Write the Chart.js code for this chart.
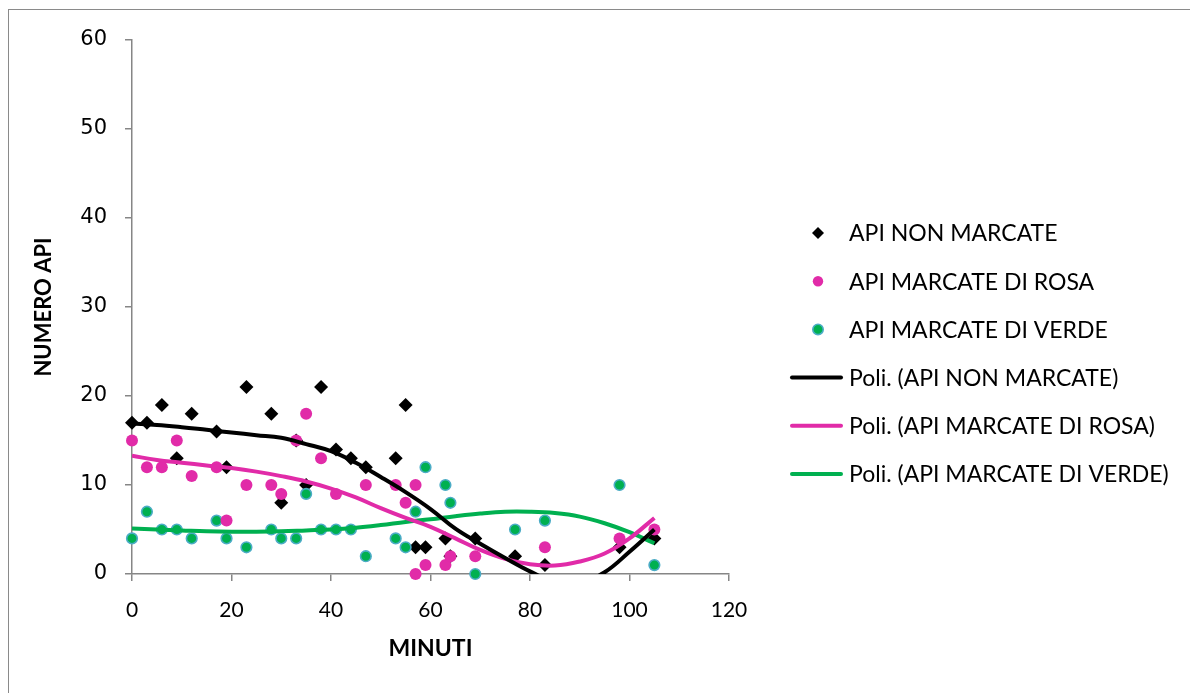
<!DOCTYPE html>
<html lang="it">
<head>
<meta charset="UTF-8">
<title>Numero api</title>
<script src="https://cdn.jsdelivr.net/npm/chart.js"></script>
<style>
  body { margin: 0; background: #fff; }
  .wrap { position: relative; width: 1190px; height: 693px; overflow: hidden; }
  .frame { position: absolute; left: 8px; top: 9px; width: 1300px; height: 800px; border: 1.5px solid #8a8a8a; }
  canvas { position: absolute; left: 0; top: 0; }
</style>
</head>
<body>
<div class="wrap">
  <div class="frame"></div>
  <canvas id="chart" width="1190" height="693"></canvas>
</div>
<script>
// punti osservati
const minutiNon = [0, 3, 6, 9, 12, 17, 19, 23, 28, 30, 33, 35, 38, 41, 44, 47, 53, 55, 57, 59, 63, 64, 69, 77, 83, 98, 105]
const apiNonMarcate = [17, 17, 19, 13, 18, 16, 12, 21, 18, 8, 15, 10, 21, 14, 13, 12, 13, 19, 3, 3, 4, 2, 4, 2, 1, 3, 4]

const minutiRosa = [0, 3, 6, 9, 12, 17, 19, 23, 28, 30, 33, 35, 38, 41, 47, 53, 55, 57, 57, 59, 63, 64, 69, 83, 98, 105]
const apiRosa = [15, 12, 12, 15, 11, 12, 6, 10, 10, 9, 15, 18, 13, 9, 10, 10, 8, 10, 0, 1, 1, 2, 2, 3, 4, 5]

const minutiVerde = [0, 3, 6, 9, 12, 17, 19, 23, 28, 30, 33, 35, 38, 41, 44, 47, 53, 55, 57, 59, 63, 64, 69, 77, 83, 98, 105]
const apiVerde = [4, 7, 5, 5, 4, 6, 4, 3, 5, 4, 4, 9, 5, 5, 5, 2, 4, 3, 7, 12, 10, 8, 0, 5, 6, 10, 1]

// linee di tendenza polinomiali
const minutiTrend = [0, 5, 10, 15, 20, 25, 30, 35, 40, 45, 50, 55, 60, 65, 70, 75, 80, 85, 90, 95, 100, 105]
const trendNon = [16.9, 16.75, 16.5, 16.2, 15.9, 15.6, 15.3, 14.6, 13.8, 12.5, 10.9, 9.2, 7.3, 5.1, 3.4, 1.8, 0.3, -0.9, -1.0, 0.2, 2.5, 5.0]
const trendRosa = [13.3, 12.8, 12.5, 12.2, 11.9, 11.5, 11.0, 10.4, 9.6, 8.6, 7.4, 6.3, 5.3, 4.0, 2.7, 1.7, 1.1, 0.95, 1.4, 2.3, 4.0, 6.3]
const trendVerde = [5.1, 5.0, 4.9, 4.8, 4.75, 4.75, 4.8, 4.9, 5.0, 5.2, 5.5, 5.85, 6.15, 6.5, 6.8, 7.0, 7.0, 6.85, 6.45, 5.7, 4.7, 3.45]

const xTicks = [0, 20, 40, 60, 80, 100, 120]
const yTicks = [0, 10, 20, 30, 40, 50, 60]

const NERO = '#000000'
const ROSA = '#E12BA8'
const VERDE = '#00B050'
const AZZURRO = '#4BACC6'
const GRIGIO = '#868686'

const toPts = (xs, ys) => xs.map((x, i) => ({ x: x, y: ys[i] }))

const labelFont = 'Lato, "Open Sans", sans-serif'

// legenda disegnata a mano sul canvas, a destra del grafico
const legendaPlugin = {
  id: 'legenda',
  afterDraw(chart) {
    const ctx = chart.ctx
    const x0 = 790, xMark = 818, xText = 849, yStart = 233, step = 48.2
    ctx.save()
    ctx.font = '23px ' + labelFont
    ctx.textBaseline = 'middle'
    ctx.fillStyle = '#000'
    chart.data.datasets.forEach((ds, i) => {
      const y = yStart + i * step
      if (ds.showLine) {
        ctx.strokeStyle = ds.borderColor
        ctx.lineWidth = 4
        ctx.lineCap = 'round'
        ctx.beginPath()
        ctx.moveTo(x0 + 2, y)
        ctx.lineTo(843 - 2, y)
        ctx.stroke()
      } else if (ds.pointStyle === 'rectRot') {
        ctx.fillStyle = ds.pointBackgroundColor
        ctx.beginPath()
        ctx.moveTo(xMark - 6, y)
        ctx.lineTo(xMark, y - 6)
        ctx.lineTo(xMark + 6, y)
        ctx.lineTo(xMark, y + 6)
        ctx.closePath()
        ctx.fill()
      } else {
        ctx.fillStyle = ds.pointBackgroundColor
        ctx.beginPath()
        ctx.arc(xMark, y, 5.2, 0, Math.PI * 2)
        ctx.fill()
        if (ds.pointBorderWidth) {
          ctx.strokeStyle = ds.pointBorderColor
          ctx.lineWidth = ds.pointBorderWidth
          ctx.stroke()
        }
      }
      ctx.fillStyle = '#000'
      ctx.fillText(ds.label, xText, y + 1)
    })
    ctx.restore()
  }
}

new Chart(document.getElementById('chart'), {
  type: 'scatter',
  data: {
    datasets: [
      {
        label: 'API NON MARCATE',
        data: toPts(minutiNon, apiNonMarcate),
        pointStyle: 'rectRot',
        pointRadius: 7,
        pointBackgroundColor: NERO,
        pointBorderWidth: 0,
        clip: false,
        order: 3
      },
      {
        label: 'API MARCATE DI ROSA',
        data: toPts(minutiRosa, apiRosa),
        pointRadius: 6,
        pointBackgroundColor: ROSA,
        pointBorderWidth: 0,
        clip: false,
        order: 1
      },
      {
        label: 'API MARCATE DI VERDE',
        data: toPts(minutiVerde, apiVerde),
        pointRadius: 5.3,
        pointBackgroundColor: VERDE,
        pointBorderColor: AZZURRO,
        pointBorderWidth: 1.6,
        clip: false,
        order: 2
      },
      {
        label: 'Poli. (API NON MARCATE)',
        data: toPts(minutiTrend, trendNon),
        showLine: true,
        borderColor: NERO,
        borderWidth: 4,
        pointRadius: 0,
        tension: 0.4,
        order: 0
      },
      {
        label: 'Poli. (API MARCATE DI ROSA)',
        data: toPts(minutiTrend, trendRosa),
        showLine: true,
        borderColor: ROSA,
        borderWidth: 4,
        pointRadius: 0,
        tension: 0.4,
        order: 0
      },
      {
        label: 'Poli. (API MARCATE DI VERDE)',
        data: toPts(minutiTrend, trendVerde),
        showLine: true,
        borderColor: VERDE,
        borderWidth: 4,
        pointRadius: 0,
        tension: 0.4,
        order: 0
      }
    ]
  },
  options: {
    responsive: false,
    animation: false,
    layout: { padding: { left: 8, top: 40, right: 461, bottom: 0 } },
    plugins: {
      legend: { display: false },
      tooltip: { enabled: false }
    },
    scales: {
      x: {
        type: 'linear',
        min: 0,
        max: 120,
        afterBuildTicks: s => { s.ticks = xTicks.map(v => ({ value: v })) },
        afterFit: s => { s.height = 119 },
        border: { color: GRIGIO, width: 1.5 },
        grid: { drawOnChartArea: false, drawTicks: true, tickLength: 7, color: GRIGIO, lineWidth: 1.5 },
        ticks: { color: '#000', padding: 17, font: { family: labelFont, size: 21 } },
        title: {
          display: true,
          text: 'MINUTI',
          color: '#000',
          padding: { top: 0, bottom: 31 },
          font: { family: labelFont, size: 23, weight: 'bold' }
        }
      },
      y: {
        type: 'linear',
        min: 0,
        max: 60,
        afterBuildTicks: s => { s.ticks = yTicks.map(v => ({ value: v })) },
        afterFit: s => { s.width = 124 },
        border: { color: GRIGIO, width: 1.5 },
        grid: { drawOnChartArea: false, drawTicks: true, tickLength: 7, color: GRIGIO, lineWidth: 1.5 },
        ticks: { color: '#000', padding: 18, font: { family: '"DejaVu Sans", sans-serif', size: 21 } },
        title: {
          display: true,
          text: 'NUMERO API',
          color: '#000',
          padding: { top: 23, bottom: 0 },
          font: { family: labelFont, size: 22, weight: 'bold' }
        }
      }
    }
  },
  plugins: [legendaPlugin]
})
</script>
</body>
</html>
